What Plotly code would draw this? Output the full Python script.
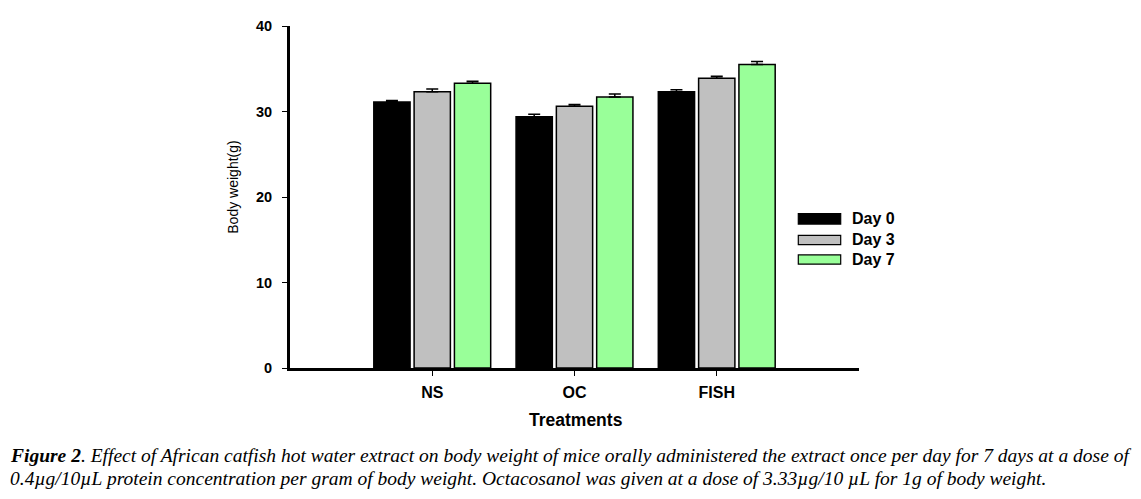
import plotly.graph_objects as go

categories = ["NS", "OC", "FISH"]
series_names = ["Day 0", "Day 3", "Day 7"]
day0 = [31.1, 29.4, 32.3]
day3 = [32.3, 30.6, 33.9]
day7 = [33.3, 31.7, 35.5]
err0 = [0.2, 0.27, 0.23]
err3 = [0.34, 0.23, 0.23]
err7 = [0.23, 0.34, 0.34]
colors = ["#000000", "#C0C0C0", "#99FF99"]
y_ticks = [0, 10, 20, 30, 40]

values = [day0, day3, day7]
errors = [err0, err3, err7]

FONT = "Arial, Liberation Sans, sans-serif"
SERIF = "Times New Roman, Liberation Serif, serif"

fig = go.Figure()
for name, vals, errs, col in zip(series_names, values, errors, colors):
    fig.add_trace(go.Bar(
        x=categories, y=vals, name=name,
        marker=dict(color=col, line=dict(color="black", width=1.5)),
        error_y=dict(type="data", symmetric=False, array=errs,
                     arrayminus=[0] * len(errs),
                     color="black", thickness=1.5, width=6),
        showlegend=False,
    ))

# page offset (body margin) compensation
OFF = 8
# plot area in window pixels: x 290..859, y 18..368
L, R, T, B = 290 - OFF, 859 - OFF, 18 - OFF, 368 - OFF
W, H = R - L, B - T
def px(x):
    return (x - OFF - L) / W
def py(y):
    return (B - (y - OFF)) / H

shapes = []
annotations = []
# manual legend
sw = [(210, 220.7), (232.3, 241.7), (252.3, 261.7)]
for (y0, y1), name, col in zip(sw, series_names, colors):
    shapes.append(dict(type="rect", xref="paper", yref="paper",
                       x0=px(798.3), x1=px(840.7), y0=py(y1), y1=py(y0),
                       fillcolor=col, line=dict(color="black", width=1.2)))
    annotations.append(dict(text="<b>%s</b>" % name, xref="paper", yref="paper",
                            x=px(850), y=py((y0 + y1) / 2), xanchor="left",
                            yanchor="middle", showarrow=False,
                            font=dict(family=FONT, size=16, color="black")))

annotations.append(dict(text="Body weight(g)", xref="paper", yref="paper",
                        x=px(233), y=py(183.5), textangle=-90, showarrow=False,
                        xanchor="center", yanchor="middle",
                        font=dict(family=FONT, size=14, color="black")))
annotations.append(dict(text="<b>Treatments</b>", xref="paper", yref="paper",
                        x=px(576), y=py(421.7), showarrow=False,
                        xanchor="center", yanchor="middle",
                        font=dict(family=FONT, size=17.5, color="black")))
cap1 = ("<b><i>Figure 2</i></b><i>. Effect of African catfish hot water extract on body weight "
        "of mice orally administered the extract once per day for 7 days at a dose of</i>")
cap2 = ("<i>0.4µg/10µL protein concentration per gram of body weight. Octacosanol was "
        "given at a dose of 3.33µg/10 µL for 1g of body weight.</i>")
annotations.append(dict(text=cap1, xref="paper", yref="paper", x=px(8), y=py(458),
                        xanchor="left", yanchor="middle", showarrow=False,
                        font=dict(family=SERIF, size=19.5, color="black")))
annotations.append(dict(text=cap2, xref="paper", yref="paper", x=px(8), y=py(481),
                        xanchor="left", yanchor="middle", showarrow=False,
                        font=dict(family=SERIF, size=19.5, color="black")))

fig.update_layout(
    width=1141, height=499,
    margin=dict(l=L, r=1141 - R, t=T, b=499 - B),
    paper_bgcolor="white", plot_bgcolor="white",
    barmode="group", bargap=0.15, bargroupgap=0.1,
    shapes=shapes, annotations=annotations,
    xaxis=dict(range=[-1, 3], type="category", showline=True, linewidth=3,
               linecolor="black", ticks="outside", ticklen=5, tickwidth=1.2,
               tickcolor="black", showgrid=False, zeroline=False,
               ticklabelstandoff=3,
               tickfont=dict(family=FONT, size=16, color="black"),
               tickvals=categories, ticktext=["<b>%s</b>" % c for c in categories]),
    yaxis=dict(range=[0, 40], tickvals=y_ticks,
               ticktext=["<b>%d</b>" % v for v in y_ticks],
               showline=True, linewidth=3, linecolor="black", ticks="outside",
               ticklen=5, tickwidth=1.2, tickcolor="black", showgrid=False,
               zeroline=False, ticklabelstandoff=7,
               tickfont=dict(family=FONT, size=14.5, color="black")),
)

fig.write_html("out.html")
